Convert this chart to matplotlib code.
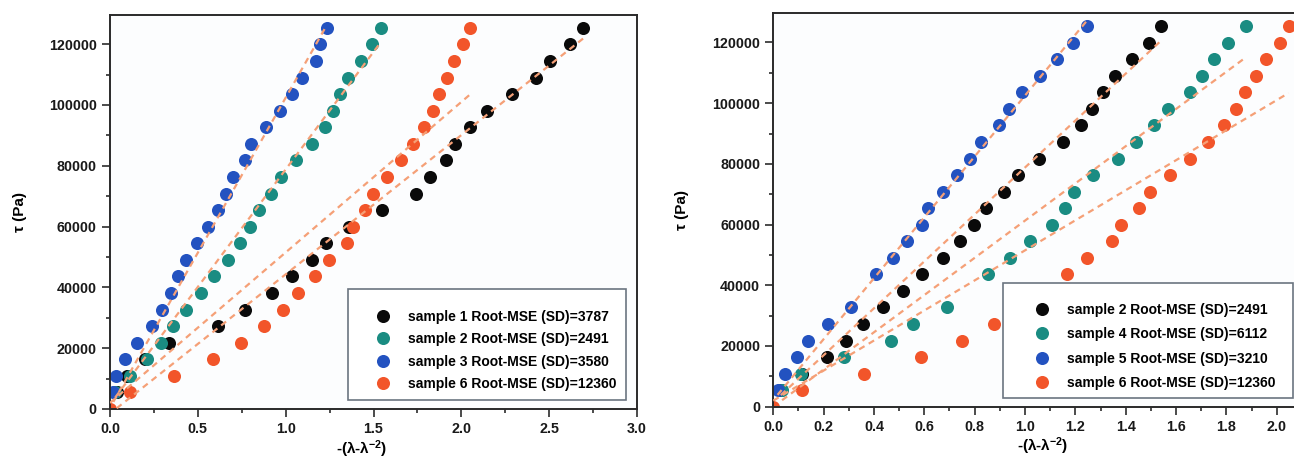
import numpy as np
import matplotlib
matplotlib.use('Agg')
import matplotlib.pyplot as plt
from matplotlib.ticker import MultipleLocator
from matplotlib.patches import Rectangle

nan = np.nan

# ---------------- data ----------------
tau = [0, 5450, 10900, 16350, 21800, 27250, 32700, 38150, 43600, 49050, 54500,
       59950, 65400, 70850, 76300, 81750, 87200, 92650, 98100, 103550, 109000,
       114450, 119900, 125350]

sample1_x = [nan, 0.038, 0.095, 0.200, 0.338, 0.616, 0.768, 0.920, 1.034, 1.148, 1.227,
             1.362, 1.546, 1.740, 1.821, 1.912, 1.964, 2.049, 2.144, 2.286, 2.425,
             2.504, 2.618, 2.694]
sample2_x = [nan, 0.030, 0.115, 0.212, 0.289, 0.357, 0.435, 0.516, 0.591, 0.674, 0.740,
             0.799, 0.846, 0.917, 0.972, 1.057, 1.152, 1.222, 1.268, 1.309, 1.357,
             1.426, 1.492, 1.540]
sample3_x = [nan, 0.019, 0.034, 0.085, 0.152, 0.237, 0.298, 0.347, 0.385, 0.433, 0.493,
             0.559, 0.616, 0.658, 0.702, 0.770, 0.801, 0.886, 0.967, 1.034, 1.091,
             1.173, 1.195, 1.233]
sample4_x = [nan, 0.035, 0.110, 0.282, 0.468, 0.554, 0.689, nan, 0.854, 0.940, 1.020,
             1.109, 1.159, 1.196, 1.271, 1.368, 1.440, 1.514, 1.569, 1.656, 1.704,
             1.752, 1.805, 1.878]
sample5_x = [nan, 0.017, 0.046, 0.093, 0.137, 0.216, 0.309, nan, 0.407, 0.477, 0.530,
             0.590, 0.616, 0.673, 0.730, 0.780, 0.825, 0.898, 0.938, 0.987, 1.060,
             1.128, 1.192, 1.245]
sample6_x = [0.0, 0.113, 0.362, 0.586, 0.748, 0.877, 0.986, 1.068, 1.166, 1.248, 1.347,
             1.382, 1.452, 1.495, 1.576, 1.655, 1.727, 1.790, 1.839, 1.875, 1.918,
             1.957, 2.012, 2.047]

# linear fits drawn as dashed lines: slope (Pa per unit) and intercept (Pa)
fit_slope = {'sample 1': 45800, 'sample 2': 77300, 'sample 3': 102000,
             'sample 4': 61300, 'sample 5': 100300, 'sample 6': 49500}
fit_intercept = {'sample 1': -1500, 'sample 2': 1500, 'sample 3': 400,
                 'sample 4': 0, 'sample 5': 2200, 'sample 6': 2000}

left_names = ['sample 1', 'sample 2', 'sample 3', 'sample 6']
left_sd = [3787, 2491, 3580, 12360]
right_names = ['sample 2', 'sample 4', 'sample 5', 'sample 6']
right_sd = [2491, 6112, 3210, 12360]

x_of = {'sample 1': sample1_x, 'sample 2': sample2_x, 'sample 3': sample3_x,
        'sample 4': sample4_x, 'sample 5': sample5_x, 'sample 6': sample6_x}

left_xticks = [0.0, 0.5, 1.0, 1.5, 2.0, 2.5, 3.0]
right_xticks = [0.0, 0.2, 0.4, 0.6, 0.8, 1.0, 1.2, 1.4, 1.6, 1.8, 2.0]
yticks = [0, 20000, 40000, 60000, 80000, 100000, 120000]

# ---------------- style ----------------
colors = ['#0a0a0a', '#1a8c82', '#2352c0', '#f2552a']
fit_color = '#f5a077'
plt.rcParams['font.family'] = ['Liberation Sans', 'DejaVu Sans']
plt.rcParams['font.weight'] = 'bold'
plt.rcParams['mathtext.fontset'] = 'custom'
plt.rcParams['mathtext.rm'] = 'Liberation Sans:bold'
plt.rcParams['mathtext.bf'] = 'Liberation Sans:bold'
plt.rcParams['mathtext.it'] = 'Liberation Sans:bold'
plt.rcParams['lines.scale_dashes'] = False

W, H = 1294, 459
fig = plt.figure(figsize=(W / 100, H / 100), dpi=100)


def px_axes(x0, x1, ytop, ybot):
    return fig.add_axes([x0 / W, 1 - ybot / H, (x1 - x0) / W, (ybot - ytop) / H])


axL = px_axes(110, 637, 15, 409)
axR = px_axes(773.3, 773.3 + 2.1 * 251.7, 13.3, 406.7)

tau_arr = np.array(tau, dtype=float)


def draw_panel(ax, names, sds, xlim, xticks, xminor, leg_anchor, labelspacing,
               box, ylabel_x, xlabel_xy, show_right):
    ax.set_facecolor('#fcfdfe')
    for i, (name, sd) in enumerate(zip(names, sds)):
        x = np.array(x_of[name], dtype=float)
        m = ~np.isnan(x)
        ax.plot(x[m], tau_arr[m], 'o', ms=9.4, color=colors[i], mec='none',
                zorder=2 + 0.01 * i, label=f'{name} Root-MSE (SD)={sd}')
    for i, name in enumerate(names):
        x = np.array(x_of[name], dtype=float)
        xx = np.array([np.nanmin(x), np.nanmax(x)])
        ax.plot(xx, fit_slope[name] * xx + fit_intercept[name], ls=(0, (4.5, 3.5)),
                color=fit_color, lw=1.6, zorder=3)
    ax.set_xlim(*xlim)
    ax.set_ylim(0, 129600)
    ax.set_xticks(xticks)
    ax.set_xticklabels([f'{t:.1f}' for t in xticks])
    ax.xaxis.set_minor_locator(MultipleLocator(xminor))
    ax.set_yticks(yticks)
    ax.set_yticklabels([str(t) for t in yticks])
    ax.yaxis.set_minor_locator(MultipleLocator(10000))
    ax.tick_params(which='major', direction='out', length=5.5, width=1.1,
                   labelsize=10.3, pad=4, colors='#1a1a1a')
    ax.tick_params(which='minor', direction='out', length=3, width=1.1, colors='#1a1a1a')
    ax.tick_params(top=False, right=False)
    for s in ax.spines.values():
        s.set_linewidth(1.4)
        s.set_color('#2a2a2a')
    ax.spines['right'].set_visible(show_right)

    ax.set_ylabel('τ (Pa)', fontsize=11, fontweight='bold')
    ax.yaxis.set_label_coords(ylabel_x, 0.5)
    ax.yaxis.label.set_verticalalignment('center')
    ax.set_xlabel(r'-(λ-λ$^{-2}$)', fontsize=11, fontweight='bold')
    ax.xaxis.set_label_coords(*xlabel_xy)
    ax.xaxis.label.set_verticalalignment('center')

    rect = Rectangle((box[0], box[1]), box[2] - box[0], box[3] - box[1],
                     transform=ax.transAxes, facecolor='white', edgecolor='#6b7580',
                     lw=1.2, zorder=5, clip_on=False)
    ax.add_patch(rect)
    leg = ax.legend(loc='upper left', bbox_to_anchor=leg_anchor, frameon=False,
                    fontsize=10.0, handlelength=1.0, handletextpad=1.30,
                    labelspacing=labelspacing, borderpad=0, borderaxespad=0,
                    numpoints=1)
    leg.set_zorder(6)


draw_panel(axL, left_names, left_sd, (0, 3.0), left_xticks, 0.25,
           (0.5048, 0.2513), 0.60, (0.452, 0.0228, 0.980, 0.3038),
           -0.171, (0.477, -0.102), True)
draw_panel(axR, right_names, right_sd, (0, 2.1), right_xticks, 0.1,
           (0.4946, 0.2645), 0.755, (0.435, 0.0214, 0.9826, 0.315),
           -0.1727, (0.509, -0.1), False)

fig.savefig('out.png', dpi=100, facecolor='white')
